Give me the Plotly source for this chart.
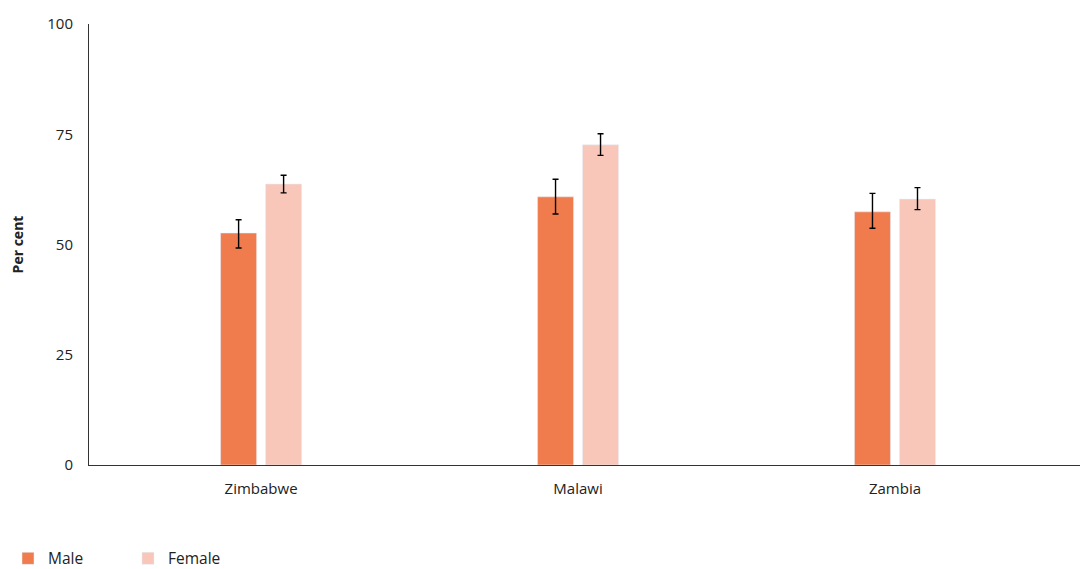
import plotly.graph_objects as go

countries = ["Zimbabwe", "Malawi", "Zambia"]
male = [52.6, 60.8, 57.4]
male_hi = [55.6, 64.8, 61.6]
male_lo = [49.2, 56.9, 53.7]
female = [63.7, 72.6, 60.3]
female_hi = [65.7, 75.1, 62.9]
female_lo = [61.7, 70.2, 57.9]

xi = list(range(len(countries)))
FONT = "'Open Sans', Lato, sans-serif"

def err(v, hi, lo):
    return dict(type="data", symmetric=False,
                array=[h - x for h, x in zip(hi, v)],
                arrayminus=[x - l for l, x in zip(lo, v)],
                color="#000000", thickness=1.4, width=3)

fig = go.Figure()
fig.add_trace(go.Bar(x=xi, y=male, name="Male", marker_color="#F07C4E",
                     width=0.1136, offset=-0.1278, error_y=err(male, male_hi, male_lo)))
fig.add_trace(go.Bar(x=xi, y=female, name="Female", marker_color="#F8C7BA",
                     width=0.1136, offset=0.0142, error_y=err(female, female_hi, female_lo)))

fig.update_layout(
    width=1088, height=569,
    margin=dict(l=81, r=8, t=16, b=112, autoexpand=False),
    plot_bgcolor="white", paper_bgcolor="white",
    font=dict(family=FONT, size=15, color="#222222"),
    barmode="overlay",
    xaxis=dict(range=[-0.543, 2.609], tickvals=xi, ticktext=countries,
               showline=True, linecolor="#333333", linewidth=1, showgrid=False,
               ticks="", tickfont=dict(size=15), zeroline=False, ticklabelstandoff=10),
    yaxis=dict(range=[0, 100], tickvals=[0, 25, 50, 75, 100],
               showline=True, linecolor="#333333", linewidth=1, showgrid=False,
               ticks="", zeroline=False, ticklabelstandoff=12, tickfont=dict(size=15),
               title=dict(text="<b>Per cent</b>", font=dict(size=14), standoff=21)),
    legend=dict(orientation="h", xref="container", yref="container",
                x=0.0, y=0.032, xanchor="left", yanchor="middle",
                font=dict(size=15.5), itemwidth=30, traceorder="normal",
                entrywidth=75, entrywidthmode="pixels"),
)
fig.write_html("out.html")
